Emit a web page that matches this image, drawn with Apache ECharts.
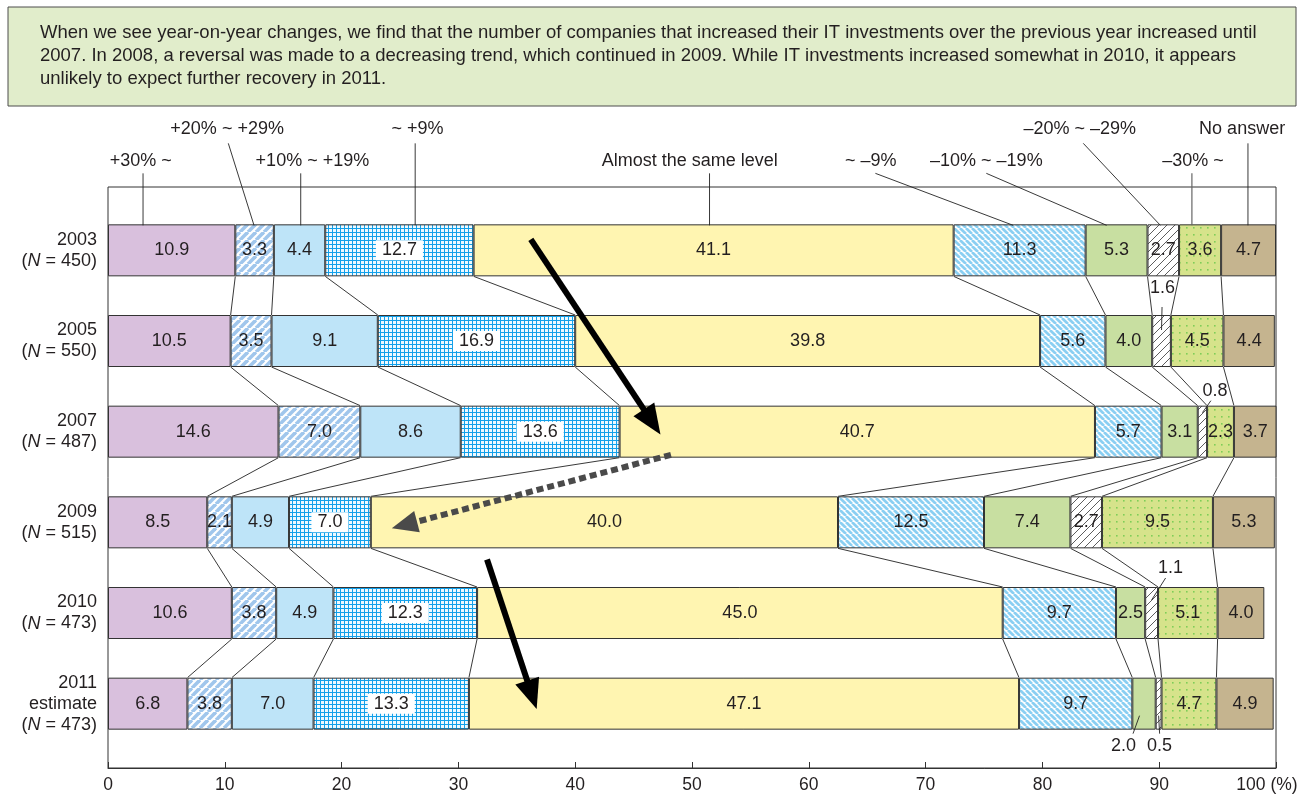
<!DOCTYPE html>
<html>
<head>
<meta charset="utf-8">
<title>Year-on-year change in IT investment</title>
<script src="https://cdn.jsdelivr.net/npm/echarts@6/dist/echarts.min.js"></script>
<style>
  html, body { margin: 0; padding: 0; background: #fff; }
  #chart { width: 1301px; height: 796px; }
</style>
</head>
<body>
<div id="chart"></div>
<script>
// ---- survey rows ----
const years = ['2003', '2005', '2007', '2009', '2010', '2011'];
const yearNotes = ['', '', '', '', '', 'estimate'];
const sampleSizes = [450, 550, 487, 515, 473, 473];

// ---- answer groups (left to right) ----
const groupNames = ['+30% ~', '+20% ~ +29%', '+10% ~ +19%', '~ +9%', 'Almost the same level',
  '~ –9%', '–10% ~ –19%', '–20% ~ –29%', '–30% ~', 'No answer'];

// ---- shares (%) per group, one value per row ----
const up30     = [10.9, 10.5, 14.6, 8.5, 10.6, 6.8];
const up20     = [3.3, 3.5, 7.0, 2.1, 3.8, 3.8];
const up10     = [4.4, 9.1, 8.6, 4.9, 4.9, 7.0];
const up0      = [12.7, 16.9, 13.6, 7.0, 12.3, 13.3];
const same     = [41.1, 39.8, 40.7, 40.0, 45.0, 47.1];
const down0    = [11.3, 5.6, 5.7, 12.5, 9.7, 9.7];
const down10   = [5.3, 4.0, 3.1, 7.4, 2.5, 2.0];
const down20   = [2.7, 1.6, 0.8, 2.7, 1.1, 0.5];
const down30   = [3.6, 4.5, 2.3, 9.5, 5.1, 4.7];
const noAnswer = [4.7, 4.4, 3.7, 5.3, 4.0, 4.9];

// ---- x axis ticks ----
const xTicks = [0, 10, 20, 30, 40, 50, 60, 70, 80, 90, 100];

const summaryLines = [
  'When we see year-on-year changes, we find that the number of companies that increased their IT investments over the previous year increased until',
  '2007. In 2008, a reversal was made to a decreasing trend, which continued in 2009. While IT investments increased somewhat in 2010, it appears',
  'unlikely to expect further recovery in 2011.'
];

// ---- annotation layout ----
// group name callouts above the first row: [text centre %, tier (0 high / 1 low), leader start %, leader end %]
const groupCallouts = [
  [2.8, 1, 3.0, 3.0],
  [10.2, 0, 10.3, 12.5],
  [17.5, 1, 16.5, 16.5],
  [26.5, 0, 26.3, 26.3],
  [49.8, 1, 51.5, 51.5],
  [65.3, 1, 65.7, 77.5],
  [75.2, 1, 75.2, 85.5],
  [83.2, 0, 83.5, 90.1],
  [92.9, 1, 92.8, 92.8],
  [97.1, 0, 97.6, 97.6]
];
// values of thin segments written outside the bar (offsets in px from segment centre / bar edge)
const smallCallouts = [
  { row: 1, group: 7, edge: 'top',    label: [1, -27],    from: [0.5, -8], to: [0, 15] },
  { row: 2, group: 7, edge: 'top',    label: [12.5, -15], from: [8.5, -5], to: [0, 7] },
  { row: 4, group: 7, edge: 'top',    label: [19, -19],   from: [14, -9],  to: [0, 13] },
  { row: 5, group: 6, edge: 'bottom', label: [-20.5, 16], from: [-11, 4],  to: [-4.5, -14] },
  { row: 5, group: 7, edge: 'bottom', label: [1, 16],     from: [1, 4],    to: [0, -14] }
];
// trend arrows: [x %, row position] pairs
const trendArrows = [
  { from: [36.2, -0.12], to: [47.3, 2.03], color: '#000000', dashed: false },
  { from: [48.2, 2.255], to: [24.3, 3.066], color: '#4a4a4a', dashed: true },
  { from: [32.45, 3.41], to: [36.7, 5.06], color: '#000000', dashed: false }
];

const FONT = '"Liberation Sans", Arial, Helvetica, sans-serif';
const INK = '#231f20';
const FS = 18;
const BAR_H = 52;

const shares = [up30, up20, up10, up0, same, down0, down10, down20, down30, noAnswer];
// running boundaries per row: cum[row][k] = left edge of group k
const cum = years.map((_, r) => {
  const out = [0];
  shares.forEach(s => out.push(+(out[out.length - 1] + s[r]).toFixed(2)));
  return out;
});

// ---- fill patterns ----
function tile(size, paint) {
  const c = document.createElement('canvas');
  c.width = size; c.height = size;
  const g = c.getContext('2d');
  paint(g, size);
  return { image: c, repeat: 'repeat' };
}
function diagonal(g, s, color, width, rising) {
  g.strokeStyle = color; g.lineWidth = width;
  for (const o of [-s, 0, s]) {
    g.beginPath();
    if (rising) { g.moveTo(o, s); g.lineTo(o + s, 0); }
    else { g.moveTo(o, 0); g.lineTo(o + s, s); }
    g.stroke();
  }
}
const fills = [
  '#d9c0dd',
  tile(8, (g, s) => { g.fillStyle = '#ffffff'; g.fillRect(0, 0, s, s); diagonal(g, s, '#a0c6ec', 3.6, true); }),
  '#bee4f8',
  tile(4, (g, s) => { g.fillStyle = '#eef9ff'; g.fillRect(0, 0, s, s); g.fillStyle = '#12a0ea'; g.fillRect(0, 0, s, 1); g.fillRect(0, 0, 1, s); }),
  '#fff5b1',
  tile(6, (g, s) => { g.fillStyle = '#ffffff'; g.fillRect(0, 0, s, s); diagonal(g, s, '#8acff2', 2.7, false); }),
  '#c8dfa1',
  tile(8, (g, s) => { g.fillStyle = '#ffffff'; g.fillRect(0, 0, s, s); diagonal(g, s, '#333333', 0.8, true); }),
  tile(7, (g, s) => { g.fillStyle = '#d6e38b'; g.fillRect(0, 0, s, s); g.fillStyle = '#7fcd58'; g.fillRect(3, 3, 1.6, 1.6); }),
  '#c5b48f'
];

const isOutside = (r, k) => smallCallouts.some(c => c.row === r && c.group === k);

const barSeries = shares.map((vals, k) => ({
  name: groupNames[k],
  type: 'bar',
  stack: 'share',
  xAxisIndex: 1,
  yAxisIndex: 1,
  barWidth: BAR_H,
  itemStyle: { color: fills[k], borderColor: '#333', borderWidth: 1 },
  label: {
    show: true,
    position: 'inside',
    fontFamily: FONT,
    fontSize: FS,
    color: INK,
    formatter: p => p.value.toFixed(1),
    backgroundColor: k === 3 ? '#ffffff' : 'transparent',
    padding: k === 3 ? [1, 6] : 0
  },
  data: vals.map((v, r) => ({ value: v, label: { show: !isOutside(r, k) } })),
  z: 2
}));

// helper: pixel point for a fractional row position
function rowY(api, x, pos) {
  const r = Math.floor(pos);
  const band = api.size([0, 1])[1];
  const p = api.coord([x, r]);
  return [p[0], p[1] + (pos - r) * band];
}

// connectors between matching boundaries of consecutive rows
const connectorData = [];
for (let r = 0; r < years.length - 1; r++) for (let k = 1; k < shares.length; k++) connectorData.push([cum[r][k], r, k]);

const connectorSeries = {
  type: 'custom', xAxisIndex: 1, yAxisIndex: 1, z: 1, silent: true,
  data: connectorData,
  encode: { x: 0, y: 1 },
  renderItem: (params, api) => {
    const r = api.value(1), k = api.value(2);
    const a = api.coord([cum[r][k], r]);
    const b = api.coord([cum[r + 1][k], r + 1]);
    return { type: 'line', shape: { x1: a[0], y1: a[1] + BAR_H / 2, x2: b[0], y2: b[1] - BAR_H / 2 },
      style: { stroke: '#222', lineWidth: 0.9 } };
  }
};

const groupCalloutSeries = {
  type: 'custom', xAxisIndex: 1, yAxisIndex: 1, z: 3, silent: true,
  data: groupCallouts.map((c, k) => [c[0], 0, k]),
  encode: { x: 0, y: 1 },
  renderItem: (params, api) => {
    const k = api.value(2);
    const [tx, tier, sx, ex] = groupCallouts[k];
    const top = api.coord([0, 0])[1] - BAR_H / 2;
    const textY = top + (tier === 0 ? -95 : -63);
    const startY = top + (tier === 0 ? -81 : -51);
    return { type: 'group', children: [
      { type: 'text', style: { text: groupNames[k], x: api.coord([tx, 0])[0], y: textY,
        align: 'center', verticalAlign: 'middle', fontSize: FS, fontFamily: FONT, fill: INK } },
      { type: 'line', shape: { x1: api.coord([sx, 0])[0], y1: startY, x2: api.coord([ex, 0])[0], y2: top + 1 },
        style: { stroke: k === 8 ? '#666' : '#222', lineWidth: k === 8 ? 1.2 : 0.9 } }
    ] };
  }
};

const smallCalloutSeries = {
  type: 'custom', xAxisIndex: 1, yAxisIndex: 1, z: 4, silent: true,
  data: smallCallouts.map((c, i) => [0, c.row, i]),
  encode: { x: 0, y: 1 },
  renderItem: (params, api) => {
    const c = smallCallouts[api.value(2)];
    const mid = (cum[c.row][c.group] + cum[c.row][c.group + 1]) / 2;
    const p = api.coord([mid, c.row]);
    const edgeY = p[1] + (c.edge === 'top' ? -BAR_H / 2 : BAR_H / 2);
    const cx = p[0];
    return { type: 'group', children: [
      { type: 'line', shape: { x1: cx + c.from[0], y1: edgeY + c.from[1], x2: cx + c.to[0], y2: edgeY + c.to[1] },
        style: { stroke: '#222', lineWidth: 0.9 } },
      { type: 'text', style: { text: shares[c.group][c.row].toFixed(1), x: cx + c.label[0], y: edgeY + c.label[1],
        align: 'center', verticalAlign: 'middle', fontSize: FS, fontFamily: FONT, fill: INK } }
    ] };
  }
};

const arrowSeries = {
  type: 'custom', xAxisIndex: 1, yAxisIndex: 1, z: 6, silent: true,
  data: trendArrows.map((a, i) => [a.from[0], 0, i]),
  encode: { x: 0, y: 1 },
  renderItem: (params, api) => {
    const a = trendArrows[api.value(2)];
    const s = rowY(api, a.from[0], a.from[1]);
    const t = rowY(api, a.to[0], a.to[1]);
    const dx = t[0] - s[0], dy = t[1] - s[1];
    const len = Math.hypot(dx, dy), ux = dx / len, uy = dy / len;
    const headLen = a.dashed ? 26 : 30, headHalf = a.dashed ? 11 : 12.5;
    const bx = t[0] - ux * headLen, by = t[1] - uy * headLen;
    const nx = -uy, ny = ux;
    return { type: 'group', children: [
      { type: 'line', shape: { x1: s[0], y1: s[1], x2: bx + ux * 2, y2: by + uy * 2 },
        style: { stroke: a.color, lineWidth: 6, lineDash: a.dashed ? [7, 4] : null } },
      { type: 'polygon', shape: { points: [[t[0], t[1]], [bx + nx * headHalf, by + ny * headHalf], [bx - nx * headHalf, by - ny * headHalf]] },
        style: { fill: a.color } }
    ] };
  }
};

const chart = echarts.init(document.getElementById('chart'), null, { renderer: 'canvas' });

chart.setOption({
  animation: false,
  backgroundColor: '#ffffff',
  textStyle: { fontFamily: FONT },
  graphic: [
    { type: 'rect', shape: { x: 8, y: 7, width: 1288, height: 99 }, style: { fill: '#e1edcb', stroke: '#4d4d4d', lineWidth: 1 }, z: 0 },
    ...summaryLines.map((t, i) => ({
      type: 'text', x: 40, y: 33 + i * 23, z: 1,
      style: { text: t, fontSize: 18.5, fontFamily: FONT, fill: INK, verticalAlign: 'middle' }
    }))
  ],
  grid: [
    { left: 108, right: 25, top: 187, bottom: 28, show: true, borderColor: '#333', borderWidth: 1, backgroundColor: 'transparent' },
    { left: 108, right: 25, top: 205, height: 544 }
  ],
  xAxis: [
    {
      gridIndex: 0, type: 'value', min: xTicks[0], max: xTicks[xTicks.length - 1], interval: xTicks[1] - xTicks[0],
      axisLine: { show: true, lineStyle: { color: '#333', width: 1 } },
      axisTick: { show: true, inside: true, length: 6, lineStyle: { color: '#333' } },
      splitLine: { show: false },
      axisLabel: {
        fontSize: 17.5, fontFamily: FONT, color: INK, margin: 8,
        formatter: v => v === xTicks[xTicks.length - 1] ? '{last|' + v + ' (%)}' : String(v),
        rich: { last: { fontSize: 17.5, fontFamily: FONT, color: INK, padding: [0, 18, 0, 0] } }
      }
    },
    { gridIndex: 1, type: 'value', min: 0, max: 100, show: false }
  ],
  yAxis: [
    { gridIndex: 0, type: 'value', show: false, min: 0, max: 1 },
    {
      gridIndex: 1, type: 'category', inverse: true, data: years,
      axisLine: { show: false }, axisTick: { show: false }, splitLine: { show: false },
      axisLabel: {
        margin: 11, fontSize: FS, fontFamily: FONT, color: INK, lineHeight: 21, align: 'right',
        formatter: (val, idx) => {
          const lines = [val];
          if (yearNotes[idx]) lines.push(yearNotes[idx]);
          lines.push('({n|N} = ' + sampleSizes[idx] + ')');
          return lines.join('\n');
        },
        rich: { n: { fontStyle: 'italic', fontSize: FS, fontFamily: FONT, color: INK, lineHeight: 21 } }
      }
    }
  ],
  series: [connectorSeries, ...barSeries, groupCalloutSeries, smallCalloutSeries, arrowSeries]
});
</script>
</body>
</html>
